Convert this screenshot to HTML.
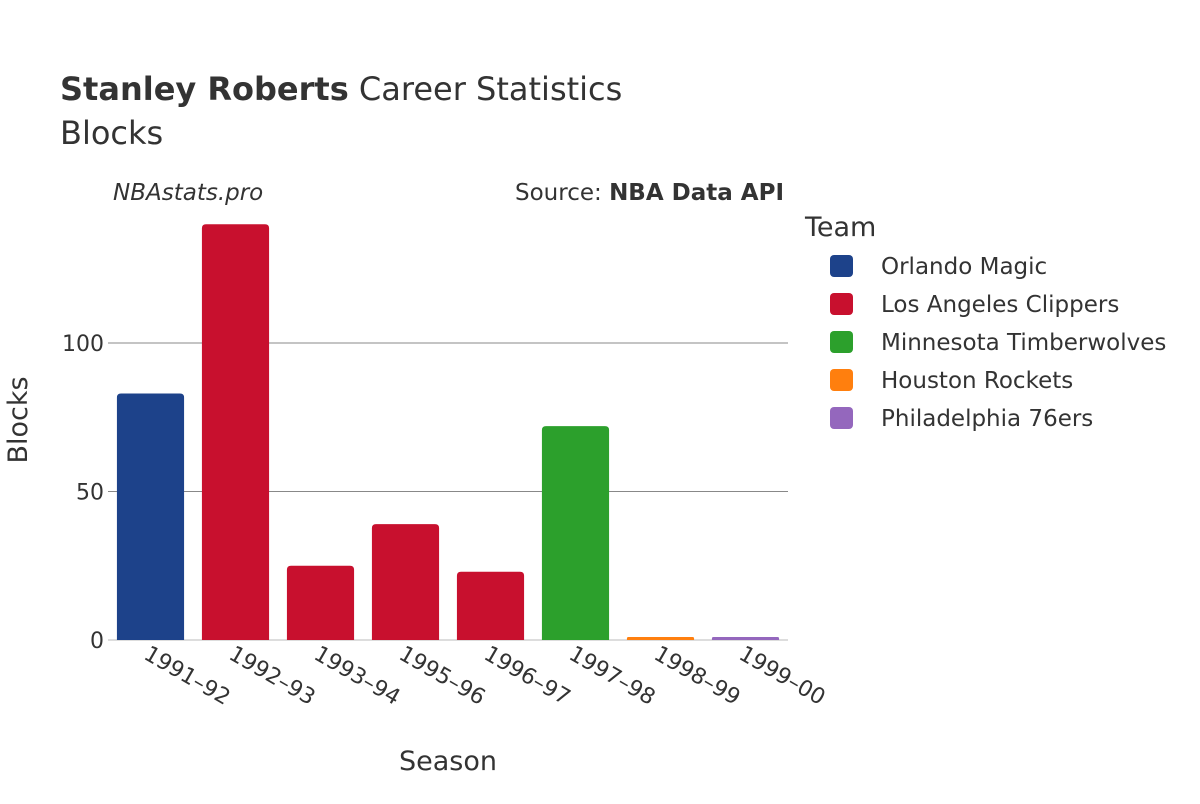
<!DOCTYPE html>
<html><head><meta charset="utf-8"><style>
body{margin:0;background:#fff;font-family:"DejaVu Sans","Liberation Sans",sans-serif;}
svg text{font-family:"DejaVu Sans","Liberation Sans",sans-serif;fill:#333;}
</style></head><body>
<svg id="chart" width="1200" height="800" xmlns="http://www.w3.org/2000/svg">
<text x="60" y="100" font-size="32"><tspan font-weight="bold">Stanley Roberts</tspan> Career Statistics</text>
<text x="60" y="144" font-size="32">Blocks</text>
<text x="113" y="200" font-size="23" font-style="italic">NBAstats.pro</text>
<text x="784" y="200" font-size="23" text-anchor="end">Source: <tspan font-weight="bold">NBA Data API</tspan></text>
<g id="grid"></g>
<g id="bars"></g>
<g id="xticks"></g>
<text x="448" y="770" font-size="27" text-anchor="middle">Season</text>
<text transform="translate(27,420) rotate(-90)" font-size="27" text-anchor="middle">Blocks</text>
<text x="805" y="236" font-size="27">Team</text>
<g id="legend"></g>
</svg>
<script>
const seasons=["1991–92","1992–93","1993–94","1995–96","1996–97","1997–98","1998–99","1999–00"];
const blocks=[83,140,25,39,23,72,1,1];
const teamOf=[0,1,1,1,1,2,3,4];
const teams=["Orlando Magic","Los Angeles Clippers","Minnesota Timberwolves","Houston Rockets","Philadelphia 76ers"];
const colors=["#1d428a","#c8102e","#2ca02c","#ff7f0e","#9467bd"];
const yTicks=[0,50,100];
const NS="http://www.w3.org/2000/svg";
const x0=108,x1=788,y0=640,pxPerUnit=2.97;
const y=v=>y0-v*pxPerUnit;
const bw=(x1-x0)/seasons.length;
function mk(t,a,p){const e=document.createElementNS(NS,t);for(const k in a)e.setAttribute(k,a[k]);p.appendChild(e);return e;}
const grid=document.getElementById('grid');
yTicks.forEach(v=>{
 const l=mk('line',{x1:x0,x2:x1,y1:y(v),y2:y(v),stroke:v===0?'#ddd':'#888','stroke-width':v===0?2:1},grid);
 
 
 const t=mk('text',{x:x0-4,y:y(v)+8,'font-size':22,'text-anchor':'end'},grid);t.textContent=v;
 
 
});
const bars=document.getElementById('bars'),xt=document.getElementById('xticks');
seasons.forEach((s,i)=>{
 const cx=x0+bw*(i+0.5),w=bw*0.79,top=y(blocks[i]),h=y0-top;
 const r=Math.min(4,h/2);
 const p=mk('path',{d:`M${cx-w/2},${y0} V${top+r} Q${cx-w/2},${top} ${cx-w/2+r},${top} H${cx+w/2-r} Q${cx+w/2},${top} ${cx+w/2},${top+r} V${y0} Z`,fill:colors[teamOf[i]]},bars);
 
 
 const t=mk('text',{x:0,y:0,'font-size':22,transform:`translate(${cx-8},${y0+18}) rotate(30)`},xt);t.textContent=s;
 
 
});
const lg=document.getElementById('legend');
teams.forEach((tm,i)=>{
 const yy=266+i*38;
 const g=mk('g',{},lg);
 
 
 mk('rect',{x:830,y:yy-11,width:23,height:22,rx:4,fill:colors[i]},g);
 const t=mk('text',{x:881,y:yy+8,'font-size':23},g);t.textContent=tm;
});
</script>
</body></html>
